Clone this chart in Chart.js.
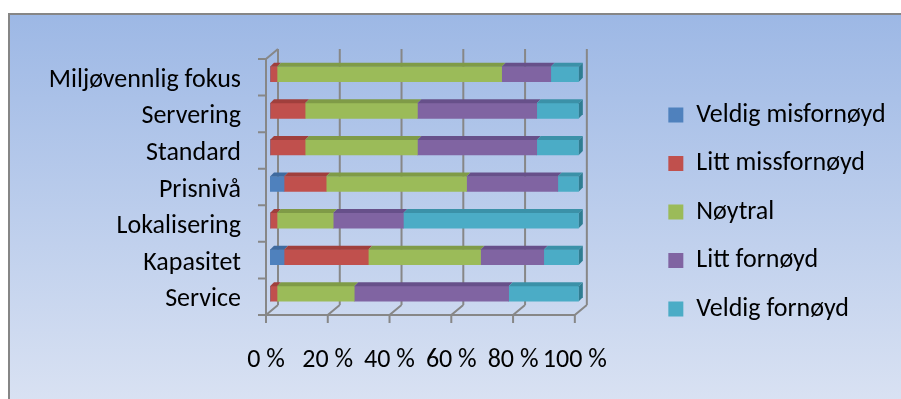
<!DOCTYPE html>
<html lang="no">
<head>
<meta charset="utf-8">
<title>Tilfredshet</title>
<script src="https://cdn.jsdelivr.net/npm/chart.js@4.4.0/dist/chart.umd.min.js"></script>
<style>
  html, body { margin: 0; padding: 0; background: #fff; overflow: hidden; }
  .frame {
    position: absolute; left: 8px; top: 13px; width: 900px; height: 400px;
    border: 2px solid #868686;
    background: linear-gradient(to bottom, #9db8e5 0%, #dbe3f3 100%);
  }
  #wrap { position: absolute; left: 0; top: 0; width: 901px; height: 399px; }
</style>
</head>
<body>
<div class="frame"></div>
<div id="wrap"><canvas id="satisfactionChart" width="901" height="399"></canvas></div>
<script>
const categories = ['Miljøvennlig fokus', 'Servering', 'Standard', 'Prisnivå', 'Lokalisering', 'Kapasitet', 'Service'];
const seriesNames = ['Veldig misfornøyd', 'Litt missfornøyd', 'Nøytral', 'Litt fornøyd', 'Veldig fornøyd'];

// number of answers per category (44 respondents)
const veldigMisfornoyd = [0, 0, 0, 2, 0, 2, 0];
const littMissfornoyd = [1, 5, 5, 6, 1, 12, 1];
const noytral = [32, 16, 16, 20, 8, 16, 11];
const littFornoyd = [7, 17, 17, 13, 10, 9, 22];
const veldigFornoyd = [4, 6, 6, 3, 25, 5, 10];

const tickValues = [0, 20, 40, 60, 80, 100];

const frontColors = ['#4f81bd', '#c0504d', '#9bbb59', '#8064a2', '#4bacc6'];
const topColors = ['#3f6a9e', '#a03f3c', '#7f9b47', '#67508a', '#3b91a8'];
const sideColor = '#2f7d92';

const allSeries = [veldigMisfornoyd, littMissfornoyd, noytral, littFornoyd, veldigFornoyd];
const totals = categories.map((c, i) => allSeries.reduce((sum, s) => sum + s[i], 0));

function toPercent(series) {
    return series.map((v, i) => v / totals[i] * 100);
}

// walls, grid and floor of the 3D frame, plus the top/side faces of the bars
const depthPlugin = {
    id: 'depth',
    afterLayout(chart) {
        // legend sits a fixed distance right of the plot and may use the rest of the width
        const legend = chart.legend;
        if (!legend) return;
        legend.left = chart.chartArea.right + 67;
        legend.right = chart.width;
        legend.width = legend.right - legend.left;
    },
    beforeDatasetsDraw(chart) {
        const { ctx, scales: { x, y }, chartArea } = chart;
        const front = { dx: -4, dy: 3 };
        const back = { dx: 8, dy: -7 };
        const top = chartArea.top;
        const bottom = chartArea.bottom;
        const x0 = x.getPixelForValue(0);
        const x100 = x.getPixelForValue(100);

        ctx.save();
        ctx.strokeStyle = '#878787';
        ctx.lineWidth = 2;
        ctx.beginPath();
        tickValues.forEach(v => {
            const px = x.getPixelForValue(v);
            ctx.moveTo(px + back.dx, top + back.dy);
            ctx.lineTo(px + back.dx, bottom + back.dy);
            ctx.moveTo(px + front.dx, bottom + front.dy + 8);
            ctx.lineTo(px + front.dx, bottom + front.dy);
            ctx.lineTo(px + back.dx, bottom + back.dy);
        });
        ctx.moveTo(x0 + front.dx, bottom + front.dy);
        ctx.lineTo(x100 + front.dx, bottom + front.dy);

        ctx.moveTo(x0 + back.dx, top + back.dy);
        ctx.lineTo(x0 + front.dx, top + front.dy);
        ctx.lineTo(x0 + front.dx, bottom + front.dy);

        const band = (bottom - top) / categories.length;
        categories.forEach((c, i) => {
            const edge = y.getPixelForValue(i) - band / 2 + front.dy;
            ctx.moveTo(x0 + front.dx - 8, edge);
            ctx.lineTo(x0 + front.dx, edge);
        });
        ctx.moveTo(x0 + front.dx - 8, bottom + front.dy);
        ctx.lineTo(x0 + front.dx, bottom + front.dy);
        ctx.stroke();
        ctx.restore();
    },
    afterDatasetsDraw(chart) {
        const { ctx, scales: { x } } = chart;
        const d = 4;
        const full = x.getPixelForValue(100);
        ctx.save();
        chart.data.datasets.forEach((ds, di) => {
            const meta = chart.getDatasetMeta(di);
            meta.data.forEach(bar => {
                const p = bar.getProps(['x', 'base', 'y', 'height'], true);
                const left = Math.min(p.x, p.base);
                const right = Math.max(p.x, p.base);
                if (right - left < 0.5) return;
                const t = p.y - p.height / 2;
                const b = p.y + p.height / 2;
                ctx.fillStyle = topColors[di];
                ctx.beginPath();
                ctx.moveTo(left, t);
                ctx.lineTo(left + d, t - d);
                ctx.lineTo(right + d, t - d);
                ctx.lineTo(right, t);
                ctx.closePath();
                ctx.fill();
                if (right >= full - 0.5) {
                    ctx.fillStyle = sideColor;
                    ctx.beginPath();
                    ctx.moveTo(right, t);
                    ctx.lineTo(right + d, t - d);
                    ctx.lineTo(right + d, b - d);
                    ctx.lineTo(right, b);
                    ctx.closePath();
                    ctx.fill();
                }
            });
        });
        ctx.restore();
    }
};

document.addEventListener('DOMContentLoaded', function() {
    Chart.defaults.font.family = "Carlito, 'Open Sans', Lato, sans-serif";
    Chart.defaults.font.size = 26;
    Chart.defaults.color = '#000';

    const ctx = document.getElementById('satisfactionChart').getContext('2d');

    new Chart(ctx, {
        type: 'bar',
        data: {
            labels: categories,
            datasets: allSeries.map((series, i) => ({
                label: seriesNames[i],
                data: toPercent(series),
                backgroundColor: frontColors[i],
                borderWidth: 0,
                barThickness: 15
            }))
        },
        options: {
            indexAxis: 'y',
            responsive: false,
            animation: false,
            layout: {
                padding: { top: 56, bottom: 31, left: 0, right: 0 }
            },
            plugins: {
                tooltip: { enabled: false },
                legend: {
                    position: 'right',
                    align: 'center',
                    labels: {
                        boxWidth: 15,
                        boxHeight: 15,
                        padding: 22.5,
                        color: '#000'
                    }
                }
            },
            scales: {
                x: {
                    stacked: true,
                    min: 0,
                    max: 100,
                    grid: { display: false, drawTicks: false },
                    border: { display: false },
                    ticks: {
                        stepSize: 20,
                        padding: 33,
                        labelOffset: -4,
                        maxRotation: 0,
                        autoSkip: false,
                        callback: function(value) {
                            return value + ' %';
                        }
                    },
                    afterFit: function(scale) {
                        scale.height = 56;
                    }
                },
                y: {
                    stacked: true,
                    grid: { display: false, drawTicks: false },
                    border: { display: false },
                    ticks: {
                        padding: 29,
                        labelOffset: 6
                    },
                    afterFit: function(scale) {
                        scale.width = 270;
                    }
                },
                gap: {
                    type: 'linear',
                    position: 'right',
                    grid: { display: false, drawTicks: false },
                    border: { display: false },
                    ticks: { display: false },
                    afterFit: function(scale) {
                        scale.width = 172;
                    }
                }
            }
        },
        plugins: [depthPlugin]
    });
});
</script>
</body>
</html>
